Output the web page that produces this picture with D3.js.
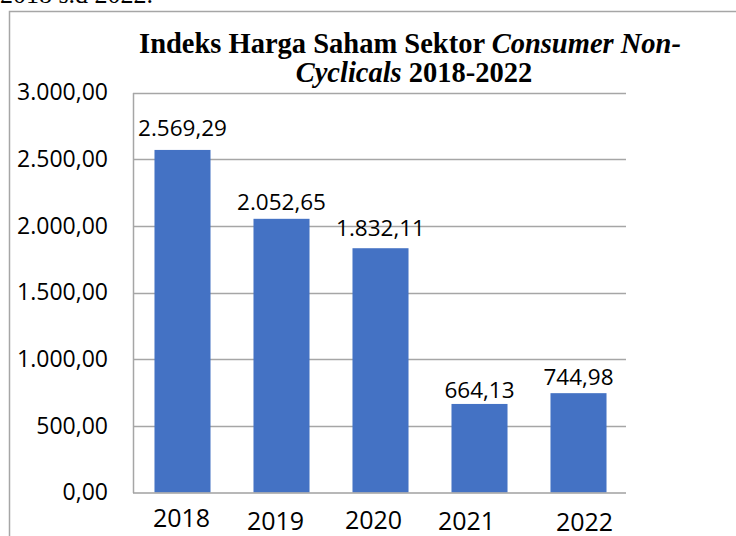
<!DOCTYPE html>
<html>
<head>
<meta charset="utf-8">
<script src="https://cdn.jsdelivr.net/npm/d3@7"></script>
<style>
html,body{margin:0;padding:0;background:#fff;}
svg{display:block;}
</style>
</head>
<body>
<svg id="chart" width="736" height="536"></svg>
<script>
// ---- data ----
const years = ["2018", "2019", "2020", "2021", "2022"];
const values = [2569.29, 2052.65, 1832.11, 664.13, 744.98];
const valueLabels = ["2.569,29", "2.052,65", "1.832,11", "664,13", "744,98"];
const yTicks = [0, 500, 1000, 1500, 2000, 2500, 3000];
const yTickLabels = ["0,00", "500,00", "1.000,00", "1.500,00", "2.000,00", "2.500,00", "3.000,00"];
const titleLine1 = [["Indeks Harga Saham Sektor ", false], ["Consumer Non-", true]];
const titleLine2 = [["Cyclicals", true], [" 2018-2022", false]];
const captionAbove = "2018 s.d 2022.";

// ---- layout ----
const svg = d3.select("#chart");
const plot = {left: 133, right: 628, top: 92.5, bottom: 492.5};
// hand-placed category text boxes in the original (dx, baseline)
const xLabelNudge = [[-1, 527], [-6, 530], [-7, 529], [-13, 530], [6, 531]];
const valueGap = [14, 9, 12, 6, 8];

const x = d3.scaleBand().domain(years).range([plot.left, plot.right])
  .paddingInner(0.434).paddingOuter(0.217);
const y = d3.scaleLinear().domain([0, 3000]).range([plot.bottom, plot.top]);

// frame of the embedded chart object (cropped at the page edges)
svg.append("text").attr("x", 0).attr("y", 3)
  .attr("font-family", "Liberation Serif").attr("font-size", 26)
  .attr("fill", "#000").text(captionAbove);
svg.append("path").attr("d", "M9.5,536 V11.5 H736")
  .attr("fill", "none").attr("stroke", "#a6a6a6").attr("stroke-width", 1.5);

// gridlines
svg.append("g").selectAll("line").data(yTicks.filter(d => d > 0)).join("line")
  .attr("x1", plot.left).attr("x2", 626)
  .attr("y1", d => Math.round(y(d)) + 0.5).attr("y2", d => Math.round(y(d)) + 0.5)
  .attr("stroke", "#a6a6a6").attr("stroke-width", 1.3);

// y axis
const yAxis = d3.axisLeft(y).tickValues(yTicks).tickSize(0).tickPadding(25)
  .tickFormat((d, i) => yTickLabels[i]);
const gy = svg.append("g").attr("transform", `translate(${plot.left},0)`).call(yAxis);
gy.select(".domain").attr("stroke", "#a6a6a6").attr("stroke-width", 1.5);
gy.selectAll("text").attr("font-family", "Open Sans").attr("font-size", 23)
  .attr("fill", "#000");

// bars
svg.append("g").selectAll("rect").data(values).join("rect")
  .attr("x", (d, i) => x(years[i]))
  .attr("width", x.bandwidth())
  .attr("y", d => y(d))
  .attr("height", d => y(0) - y(d))
  .attr("fill", "#4472C4");

// x axis line
svg.append("line").attr("x1", plot.left).attr("x2", 626)
  .attr("y1", plot.bottom + 0.5).attr("y2", plot.bottom + 0.5)
  .attr("stroke", "#a0a0a0").attr("stroke-width", 1.5);

// value labels
svg.append("g").selectAll("text").data(values).join("text")
  .attr("x", (d, i) => x(years[i]) + x.bandwidth() / 2)
  .attr("y", (d, i) => y(d) - valueGap[i])
  .attr("text-anchor", "middle")
  .attr("font-family", "Open Sans").attr("font-size", 22.5).attr("fill", "#000")
  .text((d, i) => valueLabels[i]);

// category labels
svg.append("g").selectAll("text").data(years).join("text")
  .attr("x", (d, i) => x(d) + x.bandwidth() / 2 + xLabelNudge[i][0])
  .attr("y", (d, i) => xLabelNudge[i][1])
  .attr("text-anchor", "middle")
  .attr("font-family", "Open Sans").attr("font-size", 25).attr("fill", "#000")
  .text(d => d);

// title
function titleLine(parts, cx, by) {
  const t = svg.append("text").attr("x", cx).attr("y", by).attr("text-anchor", "middle")
    .attr("font-family", "Liberation Serif").attr("font-weight", "bold")
    .attr("font-size", 28.5).attr("fill", "#000");
  parts.forEach(p => t.append("tspan").attr("font-style", p[1] ? "italic" : "normal").text(p[0]));
}
titleLine(titleLine1, 410, 53);
titleLine(titleLine2, 414, 82);
</script>
</body>
</html>
